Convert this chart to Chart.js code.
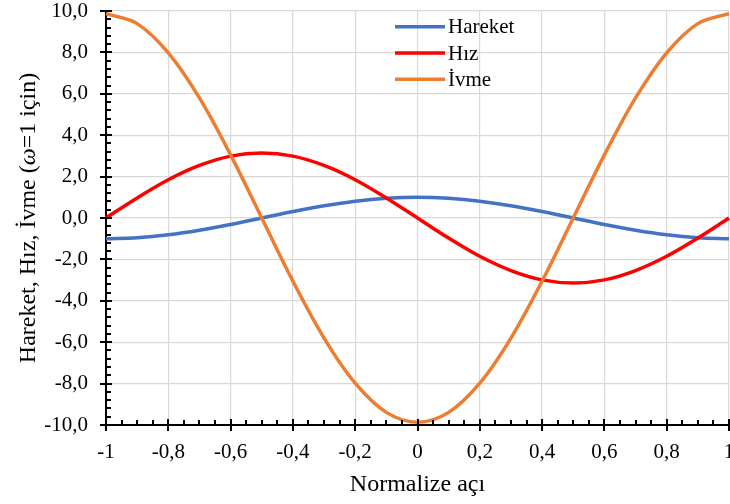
<!DOCTYPE html>
<html>
<head>
<meta charset="utf-8">
<script src="https://cdn.jsdelivr.net/npm/chart.js@4/dist/chart.umd.min.js"></script>
<style>
  html, body { margin: 0; padding: 0; background: #ffffff; }
  #wrap { width: 730px; height: 504px; }
</style>
</head>
<body>
<div id="wrap"><canvas id="c" width="730" height="504"></canvas></div>
<script>
// Normalized angle (x) and the three curves for omega = 1
const angles = [-1.0, -0.9, -0.8, -0.7, -0.6, -0.5, -0.4, -0.3, -0.2, -0.1, 0.0,
                0.1, 0.2, 0.3, 0.4, 0.5, 0.6, 0.7, 0.8, 0.9, 1.0];
const hareket = [-1.00, -0.95, -0.81, -0.59, -0.31, 0.00, 0.31, 0.59, 0.81, 0.95, 1.00,
                 0.95, 0.81, 0.59, 0.31, 0.00, -0.31, -0.59, -0.81, -0.95, -1.00];
const hiz = [0.00, 0.97, 1.85, 2.54, 2.99, 3.14, 2.99, 2.54, 1.85, 0.97, 0.00,
             -0.97, -1.85, -2.54, -2.99, -3.14, -2.99, -2.54, -1.85, -0.97, 0.00];
const ivme = [9.87, 9.39, 7.98, 5.80, 3.05, 0.00, -3.05, -5.80, -7.98, -9.39, -9.87,
              -9.39, -7.98, -5.80, -3.05, 0.00, 3.05, 5.80, 7.98, 9.39, 9.87];

const seriesNames = ['Hareket', 'Hız', 'İvme'];
const seriesColors = ['#4472C4', '#FF0000', '#ED7D31'];

const xRange = [-1, 1];
const yRange = [-10, 10];
const xMajorStep = 0.2, xMinorStep = 0.05;
const yMajorStep = 2, yMinorStep = 0.4;

const xTitle = 'Normalize açı';
const yTitleParts = [
  { text: 'Hareket, Hız, İvme (', italic: false },
  { text: 'ω', italic: true },
  { text: '=1 için)', italic: false }
];

const SERIF = '"Liberation Serif", "Times New Roman", "DejaVu Serif", serif';

function pts(ys) { return angles.map((x, i) => ({ x: x, y: ys[i] })); }

function fmtX(v) {
  const r = Math.round(v * 10) / 10;
  if (Number.isInteger(r)) return String(r);
  return r.toFixed(1).replace('.', ',');
}
function fmtY(v) {
  const r = Math.round(v * 10) / 10;
  return (r === 0 ? 0 : r).toFixed(1).replace('.', ',');
}

function noPad(s) {
  s.paddingLeft = 0; s.paddingRight = 0; s.paddingTop = 0; s.paddingBottom = 0;
}

// Tick marks (major crossing the axis, minor inside), legend and axis titles
const decorations = {
  id: 'decorations',
  afterDraw(chart) {
    const ctx = chart.ctx;
    const xs = chart.scales.x, ys = chart.scales.y;
    const area = chart.chartArea;
    ctx.save();
    ctx.strokeStyle = '#000000';
    ctx.lineWidth = 2;
    ctx.lineCap = 'butt';
    ctx.beginPath();
    // x axis minor ticks
    const nxm = Math.round((xRange[1] - xRange[0]) / xMinorStep);
    for (let i = 0; i <= nxm; i++) {
      const px = Math.round(xs.getPixelForValue(xRange[0] + i * xMinorStep));
      ctx.moveTo(px, area.bottom);
      ctx.lineTo(px, area.bottom - 5);
    }
    // x axis major ticks
    const nxM = Math.round((xRange[1] - xRange[0]) / xMajorStep);
    for (let i = 0; i <= nxM; i++) {
      const px = Math.round(xs.getPixelForValue(xRange[0] + i * xMajorStep));
      ctx.moveTo(px, area.bottom - 6);
      ctx.lineTo(px, area.bottom + 6);
    }
    // y axis minor ticks
    const nym = Math.round((yRange[1] - yRange[0]) / yMinorStep);
    for (let i = 0; i <= nym; i++) {
      const py = Math.round(ys.getPixelForValue(yRange[0] + i * yMinorStep));
      ctx.moveTo(area.left, py);
      ctx.lineTo(area.left + 5, py);
    }
    // y axis major ticks
    const nyM = Math.round((yRange[1] - yRange[0]) / yMajorStep);
    for (let i = 0; i <= nyM; i++) {
      const py = Math.round(ys.getPixelForValue(yRange[0] + i * yMajorStep));
      ctx.moveTo(area.left - 6, py);
      ctx.lineTo(area.left + 6, py);
    }
    ctx.stroke();

    // legend
    ctx.font = '21px ' + SERIF;
    ctx.textBaseline = 'middle';
    ctx.textAlign = 'left';
    chart.data.datasets.forEach((ds, i) => {
      const y = 26.7 + i * 26.3;
      ctx.strokeStyle = ds.borderColor;
      ctx.lineWidth = 3.5;
      ctx.beginPath();
      ctx.moveTo(395, y);
      ctx.lineTo(445, y);
      ctx.stroke();
      ctx.fillStyle = '#000000';
      ctx.fillText(ds.label, 448, y + 1);
    });

    // x axis title
    ctx.fillStyle = '#000000';
    ctx.font = '24px ' + SERIF;
    ctx.textAlign = 'center';
    ctx.textBaseline = 'alphabetic';
    ctx.fillText(xTitle, (area.left + area.right) / 2, 491);

    // y axis title (rotated, with italic omega)
    const fontFor = p => (p.italic ? 'italic ' : '') + '24px ' + SERIF;
    let total = 0;
    yTitleParts.forEach(p => { ctx.font = fontFor(p); total += ctx.measureText(p.text).width; });
    ctx.translate(35, (area.top + area.bottom) / 2);
    ctx.rotate(-Math.PI / 2);
    ctx.textAlign = 'left';
    let cx = -total / 2;
    yTitleParts.forEach(p => {
      ctx.font = fontFor(p);
      ctx.fillText(p.text, cx, 0);
      cx += ctx.measureText(p.text).width;
    });
    ctx.restore();
  }
};

const series = [hareket, hiz, ivme];

new Chart(document.getElementById('c'), {
  type: 'scatter',
  data: {
    datasets: series.map((s, i) => ({
      label: seriesNames[i],
      data: pts(s),
      showLine: true,
      borderColor: seriesColors[i],
      backgroundColor: seriesColors[i],
      borderWidth: 3.5,
      pointRadius: 0,
      tension: 0.35,
      order: 3 - i,
      clip: false
    }))
  },
  options: {
    responsive: false,
    animation: false,
    devicePixelRatio: 1,
    layout: { autoPadding: false, padding: { top: 11, right: 1, left: 0, bottom: 0 } },
    plugins: { legend: { display: false }, tooltip: { enabled: false } },
    scales: {
      x: {
        type: 'linear',
        min: xRange[0], max: xRange[1],
        afterFit: s => { s.height = 79; noPad(s); },
        grid: { color: '#D9D9D9', lineWidth: 1.2, drawTicks: false },
        border: { display: true, color: '#000000', width: 2 },
        ticks: {
          stepSize: xMajorStep, autoSkip: false, maxRotation: 0, padding: 15,
          color: '#000000', font: { family: SERIF, size: 21 },
          callback: v => fmtX(v)
        }
      },
      y: {
        type: 'linear',
        min: yRange[0], max: yRange[1],
        afterFit: s => { s.width = 106; noPad(s); },
        grid: { color: '#D9D9D9', lineWidth: 1.2, drawTicks: false },
        border: { display: true, color: '#000000', width: 2 },
        ticks: {
          stepSize: yMajorStep, autoSkip: false, padding: 18,
          color: '#000000', font: { family: SERIF, size: 21 },
          callback: v => fmtY(v)
        }
      }
    }
  },
  plugins: [decorations]
});
</script>
</body>
</html>
